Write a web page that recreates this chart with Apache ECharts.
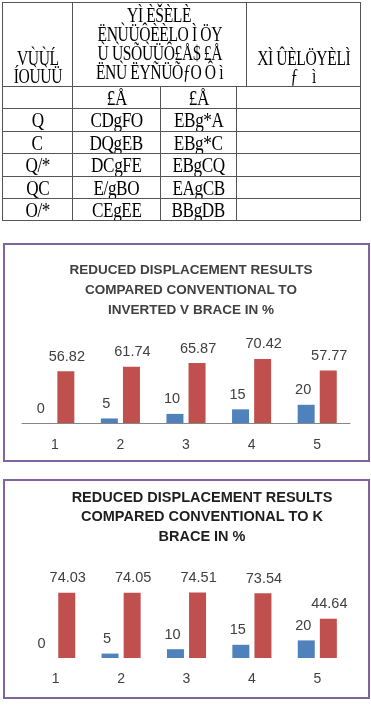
<!DOCTYPE html>
<html>
<head>
<meta charset="utf-8">
<script src="https://cdn.jsdelivr.net/npm/echarts@6/dist/echarts.min.js"></script>
<style>
  html, body { margin: 0; padding: 0; background: #fff; }
  #page { position: relative; width: 371px; height: 705px; overflow: hidden; }
  #chart { position: absolute; left: 0; top: 0; width: 371px; height: 705px; }
  #table { position: absolute; left: 0; top: 0; width: 371px; height: 225px; z-index: 2; }
  .cell {
    position: absolute; box-sizing: border-box; border: 1px solid #555;
    font-family: "Liberation Serif", serif; color: #000; text-align: center;
    white-space: pre; overflow: hidden;
    display: flex; flex-direction: column; align-items: center;
  }
  .cell span { display: inline-block; transform: scaleX(0.78); letter-spacing: -0.5px; }
</style>
</head>
<body>
<div id="page">
  <div id="chart"></div>
  <div id="table"></div>
</div>
<script>
// chart data
const categories = ["1", "2", "3", "4", "5"];
const conventional = [0, 5, 10, 15, 20];
const invertedV = [56.82, 61.74, 65.87, 70.42, 57.77];
const kBrace = [74.03, 74.05, 74.51, 73.54, 44.64];
const titleV = "REDUCED DISPLACEMENT RESULTS\nCOMPARED CONVENTIONAL TO\nINVERTED V BRACE IN %";
const titleK = "REDUCED DISPLACEMENT RESULTS\nCOMPARED CONVENTIONAL TO K\nBRACE IN %";

// table text (as printed, font-mangled in the source)
const headA = ["VÙÙĹ", "ÍOÙÙÜ"];
const headB = ["YÌ ÈŠÈLÈ", "ËNÙÜÔÈÈLO Ì ÖY", "Ù ÙSÕÙÜÔ£Å$ £Å", "ËNÙ ËYÑÜÕƒO Ô ì"];
const headD = ["XÌ ÛÈLÖYÈLÌ", "ƒ    ì"];
const subHead = ["", "£Å", "£Å", ""];
const rowLabels = ["Q", "C", "Q/*", "QC", "O/*"];
const colV = ["CDgFO", "DQgEB", "DCgFE", "E/gBO", "CEgEE"];
const colK = ["EBg*A", "EBg*C", "EBgCQ", "EAgCB", "BBgDB"];

// ---- table ----
const tbl = document.getElementById("table");
function cell(x, y, w, h, lines, size, valign, lh) {
  const d = document.createElement("div");
  d.className = "cell";
  d.style.left = x + "px";
  d.style.top = y + "px";
  d.style.width = w + "px";
  d.style.height = h + "px";
  d.style.fontSize = size + "px";
  d.style.lineHeight = (lh || size) + "px";
  d.style.justifyContent = valign || "center";
  d.style.paddingBottom = valign === "flex-end" ? "1px" : "0";
  d.style.paddingTop = valign === "flex-start" ? "3px" : "0";
  lines.forEach((t) => {
    const s = document.createElement("span");
    s.textContent = t;
    d.appendChild(s);
  });
  tbl.appendChild(d);
}
const colX = [2, 72, 160, 236, 360];
const rowY = [86, 108, 131, 153, 176, 198, 220];
cell(2, 2, 71, 85, headA, 20, "flex-end", 18);
cell(72, 2, 175, 85, headB, 20, "flex-start", 19);
cell(246, 2, 115, 85, headD, 20, "flex-end", 18);
const rowsText = [subHead].concat(rowLabels.map((r, i) => [r, colV[i], colK[i], ""]));
rowsText.forEach((row, r) => {
  row.forEach((t, c) => {
    cell(colX[c], rowY[r], colX[c + 1] - colX[c] + 1, rowY[r + 1] - rowY[r] + 1, [t], 22, "center", 22);
  });
});

// ---- charts ----
const myChart = echarts.init(document.getElementById("chart"));
const blue = "#4F81BD";
const red = "#C0504D";
const textCol = "#404040";

function barSeries(data, color, axis, size, dx) {
  return {
    type: "bar",
    xAxisIndex: axis,
    yAxisIndex: axis,
    data: data,
    barWidth: 17,
    barGap: "30%",
    itemStyle: { color: color },
    label: {
      show: true,
      position: "top",
      distance: 7,
      offset: [dx, 0],
      color: textCol,
      fontSize: size,
      fontFamily: "Liberation Sans",
    },
    animation: false,
  };
}

let option = {
  animation: false,
  title: [
    {
      text: titleV,
      left: 186,
      top: 255,
      textAlign: "center",
      textStyle: { fontSize: 13.5, fontWeight: "bold", color: "#404040", lineHeight: 20, fontFamily: "Liberation Sans" },
    },
    {
      text: titleK,
      left: 197,
      top: 483,
      textAlign: "center",
      textStyle: { fontSize: 14.5, fontWeight: "bold", color: "#1e1e1e", lineHeight: 19.5, fontFamily: "Liberation Sans" },
    },
  ],
  grid: [
    { left: 22, right: 21, top: 332, height: 91 },
    { left: 23, right: 21, top: 570, height: 88 },
  ],
  xAxis: [
    {
      gridIndex: 0,
      type: "category",
      data: categories,
      axisTick: { show: false },
      axisLine: { lineStyle: { color: "#868686", width: 1 } },
      axisLabel: { margin: 15, fontSize: 14, color: textCol, fontFamily: "Liberation Sans" },
    },
    {
      gridIndex: 1,
      type: "category",
      data: categories,
      axisTick: { show: false },
      axisLine: { show: false },
      axisLabel: { margin: 14, fontSize: 14, color: textCol, fontFamily: "Liberation Sans" },
    },
  ],
  yAxis: [
    { gridIndex: 0, type: "value", min: 0, max: 100, show: false, splitLine: { show: false } },
    { gridIndex: 1, type: "value", min: 0, max: 100, show: false, splitLine: { show: false } },
  ],
  graphic: [
    { type: "rect", shape: { x: 4, y: 244, width: 365, height: 217 }, style: { fill: null, stroke: "#8064A2", lineWidth: 2 } },
    { type: "rect", shape: { x: 4, y: 480, width: 365, height: 218 }, style: { fill: null, stroke: "#8064A2", lineWidth: 2 } },
  ],
  series: [
    barSeries(conventional, blue, 0, 14.5, -3),
    barSeries(invertedV, red, 0, 14.5, 1),
    barSeries(conventional, blue, 1, 14.5, -3),
    barSeries(kBrace, red, 1, 14.5, 1),
  ],
};
myChart.setOption(option);
</script>
</body>
</html>
